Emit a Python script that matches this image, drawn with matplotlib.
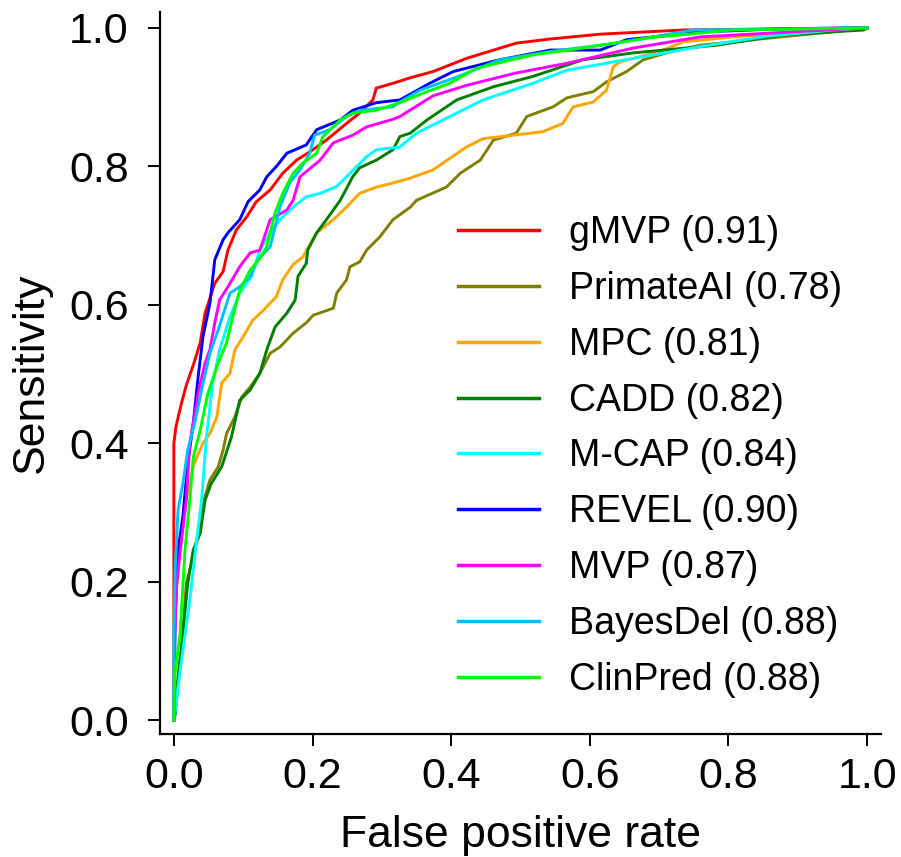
import matplotlib
matplotlib.use("Agg")
import matplotlib.pyplot as plt

plt.rcParams['font.family'] = ['Liberation Sans', 'DejaVu Sans']

names = ["gMVP", "PrimateAI", "MPC", "CADD", "M-CAP", "REVEL", "MVP", "BayesDel", "ClinPred"]
aucs = [0.91, 0.78, 0.81, 0.82, 0.84, 0.90, 0.87, 0.88, 0.88]
colors = ["#FF0000", "#808000", "#FFA500", "#008000", "#00FFFF", "#0000FF", "#FF00FF", "#00BFFF", "#00FF00"]

gmvp_fpr = [0, 0, 0.003, 0.011, 0.018, 0.028, 0.038, 0.045, 0.059, 0.071, 0.078, 0.090, 0.105, 0.119, 0.139, 0.157, 0.177, 0.196, 0.220, 0.249, 0.268, 0.287, 0.292, 0.316, 0.341, 0.374, 0.422, 0.494, 0.543, 0.615, 0.735, 1.0]
gmvp_tpr = [0, 0.400, 0.424, 0.458, 0.484, 0.513, 0.545, 0.588, 0.631, 0.648, 0.679, 0.708, 0.727, 0.749, 0.766, 0.790, 0.809, 0.821, 0.838, 0.862, 0.877, 0.896, 0.913, 0.920, 0.928, 0.937, 0.956, 0.978, 0.984, 0.991, 0.997, 1.0]

primateai_fpr = [0, 0.002, 0.006, 0.011, 0.018, 0.028, 0.035, 0.042, 0.052, 0.064, 0.071, 0.076, 0.088, 0.098, 0.110, 0.124, 0.139, 0.153, 0.172, 0.191, 0.201, 0.230, 0.235, 0.249, 0.254, 0.268, 0.278, 0.297, 0.316, 0.341, 0.350, 0.393, 0.413, 0.442, 0.461, 0.494, 0.509, 0.547, 0.567, 0.605, 0.624, 0.653, 0.677, 0.711, 0.759, 0.855, 0.937, 1.0]
primateai_tpr = [0, 0.01, 0.053, 0.101, 0.198, 0.236, 0.270, 0.313, 0.347, 0.366, 0.390, 0.414, 0.438, 0.467, 0.481, 0.501, 0.530, 0.539, 0.559, 0.574, 0.585, 0.595, 0.617, 0.636, 0.655, 0.662, 0.679, 0.698, 0.723, 0.741, 0.751, 0.770, 0.790, 0.809, 0.838, 0.848, 0.872, 0.886, 0.899, 0.908, 0.922, 0.937, 0.954, 0.964, 0.975, 0.985, 0.993, 1.0]

mpc_fpr = [0, 0, 0.005, 0.012, 0.020, 0.028, 0.033, 0.042, 0.052, 0.062, 0.069, 0.081, 0.088, 0.100, 0.114, 0.129, 0.148, 0.157, 0.172, 0.186, 0.206, 0.230, 0.249, 0.268, 0.292, 0.316, 0.341, 0.374, 0.422, 0.446, 0.532, 0.561, 0.576, 0.605, 0.624, 0.634, 0.644, 0.701, 0.735, 0.807, 0.903, 1.0]
mpc_tpr = [0, 0.155, 0.200, 0.280, 0.330, 0.366, 0.380, 0.400, 0.414, 0.438, 0.487, 0.501, 0.535, 0.554, 0.578, 0.592, 0.612, 0.636, 0.658, 0.669, 0.704, 0.723, 0.741, 0.761, 0.770, 0.776, 0.783, 0.795, 0.828, 0.840, 0.850, 0.862, 0.886, 0.893, 0.910, 0.944, 0.951, 0.966, 0.980, 0.987, 0.994, 1.0]

cadd_fpr = [0, 0.002, 0.006, 0.013, 0.020, 0.028, 0.038, 0.045, 0.054, 0.069, 0.083, 0.095, 0.110, 0.124, 0.134, 0.146, 0.163, 0.175, 0.179, 0.191, 0.193, 0.206, 0.220, 0.240, 0.258, 0.268, 0.292, 0.316, 0.326, 0.341, 0.365, 0.408, 0.461, 0.518, 0.590, 0.663, 0.783, 0.879, 0.995, 1.0]
cadd_tpr = [0, 0.01, 0.063, 0.125, 0.198, 0.246, 0.270, 0.318, 0.342, 0.366, 0.409, 0.462, 0.477, 0.501, 0.535, 0.568, 0.588, 0.607, 0.641, 0.660, 0.679, 0.704, 0.723, 0.751, 0.785, 0.798, 0.809, 0.824, 0.843, 0.848, 0.867, 0.896, 0.915, 0.930, 0.954, 0.964, 0.975, 0.990, 0.997, 1.0]

mcap_fpr = [0, 0.003, 0.006, 0.013, 0.023, 0.030, 0.040, 0.047, 0.056, 0.066, 0.081, 0.095, 0.112, 0.124, 0.139, 0.153, 0.172, 0.191, 0.211, 0.235, 0.254, 0.278, 0.292, 0.326, 0.350, 0.398, 0.446, 0.518, 0.567, 0.663, 0.759, 0.855, 0.951, 1.0]
mcap_tpr = [0, 0.02, 0.048, 0.101, 0.173, 0.236, 0.318, 0.409, 0.487, 0.535, 0.583, 0.617, 0.641, 0.679, 0.704, 0.723, 0.741, 0.756, 0.761, 0.771, 0.790, 0.814, 0.824, 0.828, 0.848, 0.872, 0.896, 0.920, 0.939, 0.956, 0.973, 0.988, 0.997, 1.0]

revel_fpr = [0, 0.002, 0.006, 0.013, 0.020, 0.028, 0.035, 0.042, 0.052, 0.059, 0.071, 0.078, 0.095, 0.107, 0.124, 0.134, 0.148, 0.163, 0.191, 0.206, 0.240, 0.258, 0.292, 0.326, 0.369, 0.403, 0.470, 0.543, 0.615, 0.653, 0.759, 0.879, 1.0]
revel_tpr = [0, 0.15, 0.246, 0.294, 0.371, 0.429, 0.496, 0.554, 0.602, 0.665, 0.694, 0.704, 0.723, 0.749, 0.766, 0.785, 0.800, 0.819, 0.831, 0.853, 0.867, 0.881, 0.892, 0.896, 0.920, 0.937, 0.954, 0.968, 0.968, 0.983, 0.994, 0.999, 1.0]

mvp_fpr = [0, 0.001, 0.004, 0.011, 0.018, 0.023, 0.035, 0.045, 0.052, 0.059, 0.066, 0.078, 0.095, 0.110, 0.124, 0.139, 0.163, 0.172, 0.182, 0.211, 0.230, 0.258, 0.278, 0.316, 0.326, 0.374, 0.422, 0.494, 0.567, 0.663, 0.759, 0.942, 1.0]
mvp_tpr = [0, 0.12, 0.198, 0.260, 0.318, 0.400, 0.472, 0.516, 0.535, 0.574, 0.607, 0.626, 0.655, 0.675, 0.679, 0.723, 0.737, 0.751, 0.785, 0.809, 0.834, 0.845, 0.857, 0.868, 0.872, 0.902, 0.917, 0.935, 0.949, 0.971, 0.987, 0.997, 1.0]

bayesdel_fpr = [0, 0, 0.002, 0.006, 0.013, 0.020, 0.030, 0.040, 0.052, 0.064, 0.081, 0.095, 0.110, 0.121, 0.139, 0.153, 0.167, 0.182, 0.196, 0.203, 0.225, 0.249, 0.268, 0.316, 0.326, 0.355, 0.408, 0.470, 0.543, 0.639, 0.749, 1.0]
bayesdel_tpr = [0, 0.130, 0.221, 0.303, 0.342, 0.390, 0.429, 0.477, 0.530, 0.564, 0.617, 0.626, 0.641, 0.665, 0.684, 0.741, 0.776, 0.795, 0.819, 0.845, 0.853, 0.872, 0.881, 0.886, 0.893, 0.910, 0.929, 0.954, 0.966, 0.978, 0.997, 1.0]

clinpred_fpr = [0, 0.001, 0.009, 0.016, 0.023, 0.028, 0.038, 0.049, 0.064, 0.076, 0.085, 0.095, 0.110, 0.124, 0.134, 0.146, 0.157, 0.172, 0.186, 0.206, 0.215, 0.240, 0.258, 0.292, 0.326, 0.360, 0.398, 0.437, 0.518, 0.590, 0.687, 0.807, 1.0]
clinpred_tpr = [0, 0.063, 0.125, 0.246, 0.318, 0.380, 0.419, 0.472, 0.516, 0.545, 0.583, 0.621, 0.650, 0.667, 0.684, 0.733, 0.761, 0.790, 0.805, 0.819, 0.843, 0.867, 0.877, 0.881, 0.892, 0.906, 0.920, 0.942, 0.961, 0.971, 0.986, 0.997, 1.0]

curves = [(gmvp_fpr, gmvp_tpr), (primateai_fpr, primateai_tpr), (mpc_fpr, mpc_tpr),
          (cadd_fpr, cadd_tpr), (mcap_fpr, mcap_tpr), (revel_fpr, revel_tpr),
          (mvp_fpr, mvp_tpr), (bayesdel_fpr, bayesdel_tpr), (clinpred_fpr, clinpred_tpr)]

ticks = [0.0, 0.2, 0.4, 0.6, 0.8, 1.0]
tick_labels = ["0.0", "0.2", "0.4", "0.6", "0.8", "1.0"]

W, H = 901, 857
fig = plt.figure(figsize=(W / 100, H / 100), dpi=100)
ax = fig.add_axes([160 / W, 1 - 734 / H, 721 / W, 722 / H])

for (fx, ty), name, auc, c in zip(curves, names, aucs, colors):
    ax.plot(fx, ty, color=c, lw=2.1, label=f"{name} ({auc:.2f})", solid_joinstyle='miter')

ax.set_xlim(-0.02, 1.02)
ax.set_ylim(-0.02, 1.023)
for s in ["top", "right"]:
    ax.spines[s].set_visible(False)
for s in ["left", "bottom"]:
    ax.spines[s].set_linewidth(1.6)

ax.set_xticks(ticks)
ax.set_xticklabels(tick_labels)
ax.set_yticks(ticks)
ax.set_yticklabels(tick_labels)
ax.tick_params(axis='both', direction='out', length=8.5, width=1.4, labelsize=31)
ax.tick_params(axis='y', pad=14)
ax.tick_params(axis='x', pad=8)

ax.set_xlabel("False positive rate", fontsize=32, labelpad=13)
ax.set_ylabel("Sensitivity", fontsize=32, labelpad=12)

leg = ax.legend(loc='upper left', bbox_to_anchor=(458 / W, 1 - 215 / H),
                bbox_transform=fig.transFigure, frameon=False, fontsize=27,
                handlelength=2.16, handletextpad=0.8, labelspacing=0.53,
                borderpad=0, borderaxespad=0)
for line in leg.get_lines():
    line.set_linewidth(2.5)

fig.savefig("out.png", dpi=100)
